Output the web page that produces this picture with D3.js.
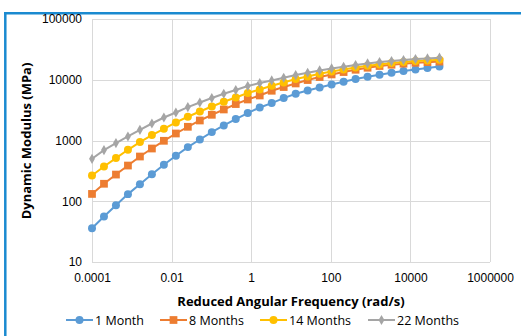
<!DOCTYPE html>
<meta charset="utf-8">
<style>
  body { margin: 0; background: #fff; }
  svg { display: block; font-family: "Open Sans", sans-serif; }
  .grid line { stroke: #d9d9d9; stroke-width: 1; }
  .tick text { font-size: 12px; fill: #000; }
  .title { font-size: 13px; font-weight: bold; }
  .legend text { font-size: 12.5px; }
</style>
<svg width="521" height="336"></svg>
<script src="https://cdn.jsdelivr.net/npm/d3@7"></script>
<script>

// reduced angular frequency, doubling each step from 1e-4
var freqs = d3.range(30).map(function(i) { return 1e-4 * Math.pow(2, i); });

var month1 = [36, 56, 86, 131, 191, 279, 398, 560, 778, 1038, 1374, 1766, 2253, 2828, 3497,
              4130, 4990, 5870, 6670, 7470, 8370, 9270, 10260, 11200, 12080, 13030, 13900, 14790, 15600, 16560];
var month8 = [132, 194, 275, 387, 545, 738, 989, 1304, 1681, 2135, 2650, 3242, 3980, 4735, 5510,
              6590, 7590, 8690, 9890, 11080, 12230, 13390, 14610, 15770, 16830, 17670, 18400, 19000, 19500, 19900];
var month14 = [265, 373, 513, 703, 941, 1228, 1559, 1981, 2457, 3005, 3633, 4341, 5110, 6040, 6920,
               7960, 9030, 10270, 11330, 12550, 13710, 14790, 15960, 17020, 17870, 18840, 19590, 20330, 20800, 21400];
var month22 = [500, 695, 906, 1164, 1500, 1905, 2392, 2893, 3550, 4225, 5000, 5880, 6765, 7870, 8830,
               9740, 10790, 11950, 13030, 14230, 15350, 16370, 17450, 18560, 19570, 20330, 21130, 21940, 22440, 23100];

var seriesNames = ["1 Month", "8 Months", "14 Months", "22 Months"];
var seriesValues = [month1, month8, month14, month22];
var colors = ["#5b9bd5", "#ed7d31", "#ffc000", "#a5a5a5"];
var shapes = [d3.symbolCircle, d3.symbolSquare, d3.symbolCircle, d3.symbolDiamond];
var sizes = [50, 60, 50, 30];

var xTicks = [1e-4, 1e-2, 1, 100, 10000, 1e6];
var yTicks = [10, 100, 1000, 10000, 100000];

var svg = d3.select("svg");

// blue frame
svg.append("line").attr("x1", 4).attr("x2", 521).attr("y1", 13.3).attr("y2", 13.3)
    .attr("stroke", "#1a8ad0").attr("stroke-width", 2.5);
svg.append("line").attr("x1", 5.3).attr("x2", 5.3).attr("y1", 12).attr("y2", 336)
    .attr("stroke", "#1a8ad0").attr("stroke-width", 2.5);

var x = d3.scaleLog().domain([1e-4, 1e6]).range([92, 490]);
var y = d3.scaleLog().domain([10, 100000]).range([262, 19]);

// grid
var grid = svg.append("g").attr("class", "grid");
grid.selectAll(".gx").data(xTicks).enter().append("line")
    .attr("x1", function(d) { return Math.round(x(d)) + 0.5; })
    .attr("x2", function(d) { return Math.round(x(d)) + 0.5; })
    .attr("y1", y(100000)).attr("y2", y(10));
grid.selectAll(".gy").data(yTicks).enter().append("line")
    .attr("y1", function(d) { return Math.round(y(d)) + 0.5; })
    .attr("y2", function(d) { return Math.round(y(d)) + 0.5; })
    .attr("x1", x(1e-4)).attr("x2", x(1e6));

// axes (labels only)
var xAxis = svg.append("g").attr("transform", "translate(0,262)")
    .call(d3.axisBottom(x).tickValues(xTicks).tickFormat(d3.format("")).tickSize(0).tickPadding(11));
var yAxis = svg.append("g").attr("transform", "translate(92,0)")
    .call(d3.axisLeft(y).tickValues(yTicks).tickFormat(d3.format("")).tickSize(0).tickPadding(10));
xAxis.select(".domain").remove();
yAxis.select(".domain").remove();
xAxis.selectAll("text").text(function(d) { return d < 1 ? d.toFixed(Math.round(-Math.log10(d))) : d; });

// series
var line = d3.line()
    .x(function(d, i) { return x(freqs[i]); })
    .y(function(d) { return y(d); });

seriesValues.forEach(function(vals, s) {
  var g = svg.append("g");
  g.append("path").datum(vals)
      .attr("d", line)
      .attr("fill", "none")
      .attr("stroke", colors[s])
      .attr("stroke-width", 2);
  g.selectAll("path.pt").data(vals).enter().append("path")
      .attr("class", "pt")
      .attr("d", d3.symbol().type(shapes[s]).size(sizes[s]))
      .attr("transform", function(d, i) { return "translate(" + x(freqs[i]) + "," + y(d) + ")"; })
      .attr("fill", colors[s]);
});

// titles
svg.append("text").attr("class", "title")
    .attr("x", 291).attr("y", 306).attr("text-anchor", "middle")
    .text("Reduced Angular Frequency (rad/s)");
svg.append("text").attr("class", "title")
    .attr("transform", "translate(31,141) rotate(-90)").attr("text-anchor", "middle")
    .text("Dynamic Modulus (MPa)");

// legend
var legendX = [66, 160, 260, 368];
var legend = svg.append("g").attr("class", "legend");
seriesNames.forEach(function(name, s) {
  var g = legend.append("g").attr("transform", "translate(" + legendX[s] + ",320)");
  g.append("line").attr("x1", 0).attr("x2", 27).attr("stroke", colors[s]).attr("stroke-width", 2);
  g.append("path").attr("d", d3.symbol().type(shapes[s]).size(sizes[s]))
      .attr("transform", "translate(13.5,0)").attr("fill", colors[s]);
  g.append("text").attr("x", 29).attr("y", 4.5).text(name);
});
</script>
